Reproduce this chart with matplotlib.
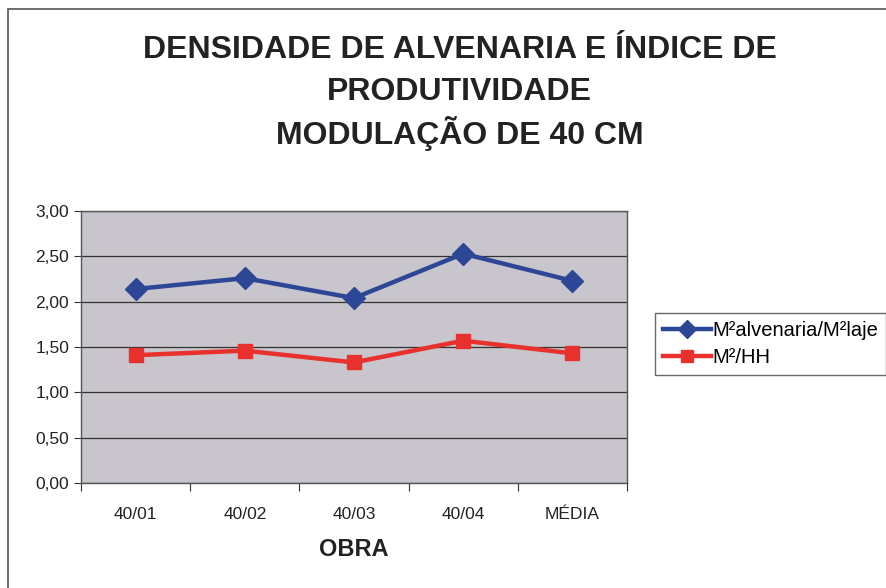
import matplotlib
matplotlib.use('Agg')
import matplotlib.pyplot as plt
from matplotlib.patches import Rectangle

plt.rcParams['font.family'] = ['Liberation Sans', 'DejaVu Sans']

obras = ['40/01', '40/02', '40/03', '40/04', 'MÉDIA']
densidade = [2.14, 2.26, 2.04, 2.53, 2.23]
produtividade = [1.41, 1.46, 1.33, 1.57, 1.43]
yticks = [0.0, 0.5, 1.0, 1.5, 2.0, 2.5, 3.0]

fig = plt.figure(figsize=(8.87, 5.88), dpi=100)
fig.patches.append(Rectangle((0.009, -0.01), 1.0, 0.994, transform=fig.transFigure,
                             fill=False, edgecolor='#555555', linewidth=1.2))

ax = fig.add_axes([0.0913, 0.1786, 0.6157, 0.4624])
ax.set_facecolor('#c9c5cc')

x = range(len(obras))
ax.plot(x, densidade, color='#2b4796', linewidth=3.2, marker='D', markersize=11,
        label='M²alvenaria/M²laje')
ax.plot(x, produtividade, color='#e8302c', linewidth=3.2, marker='s', markersize=10,
        label='M²/HH')

ax.set_xlim(-0.5, len(obras) - 0.5)
ax.set_ylim(0, 3)
ax.set_yticks(yticks)
ax.set_yticklabels([f'{v:.2f}'.replace('.', ',') for v in yticks], fontsize=12.5,
                   color='#222222')
ax.yaxis.grid(True, color='#333333', linewidth=0.9)
ax.set_axisbelow(True)

# ticks entre categorias, rótulos no centro (estilo Excel)
ax.set_xticks([i - 0.5 for i in range(len(obras) + 1)])
ax.set_xticklabels([])
ax.set_xticks(list(x), minor=True)
ax.set_xticklabels(obras, minor=True, fontsize=12.5, color='#222222')
ax.tick_params(axis='x', which='minor', length=0, pad=17)
ax.tick_params(axis='x', which='major', length=6, color='#333333')
ax.tick_params(axis='y', length=5, color='#333333')
for s in ax.spines.values():
    s.set_color('#555555')
    s.set_linewidth(1.0)

ax.set_xlabel('OBRA', fontsize=17, fontweight='bold', labelpad=12, color='#222222')

fig.text(0.518, 0.915, 'DENSIDADE DE ALVENARIA E ÍNDICE DE', ha='center', va='center',
         fontsize=23, fontweight='bold', color='#222222')
fig.text(0.518, 0.843, 'PRODUTIVIDADE', ha='center', va='center',
         fontsize=23, fontweight='bold', color='#222222')
fig.text(0.518, 0.773, 'MODULAÇÃO DE 40 CM', ha='center', va='center',
         fontsize=23, fontweight='bold', color='#222222')

leg = fig.legend(loc='center left', bbox_to_anchor=(0.727, 0.415), fontsize=14.5,
                 frameon=True, fancybox=False, edgecolor='#444444',
                 handlelength=2.4, handletextpad=0.05, borderpad=0.4, labelspacing=0.4,
                 markerscale=0.8)
leg.get_frame().set_linewidth(1.0)

fig.savefig('out.png', dpi=100)
